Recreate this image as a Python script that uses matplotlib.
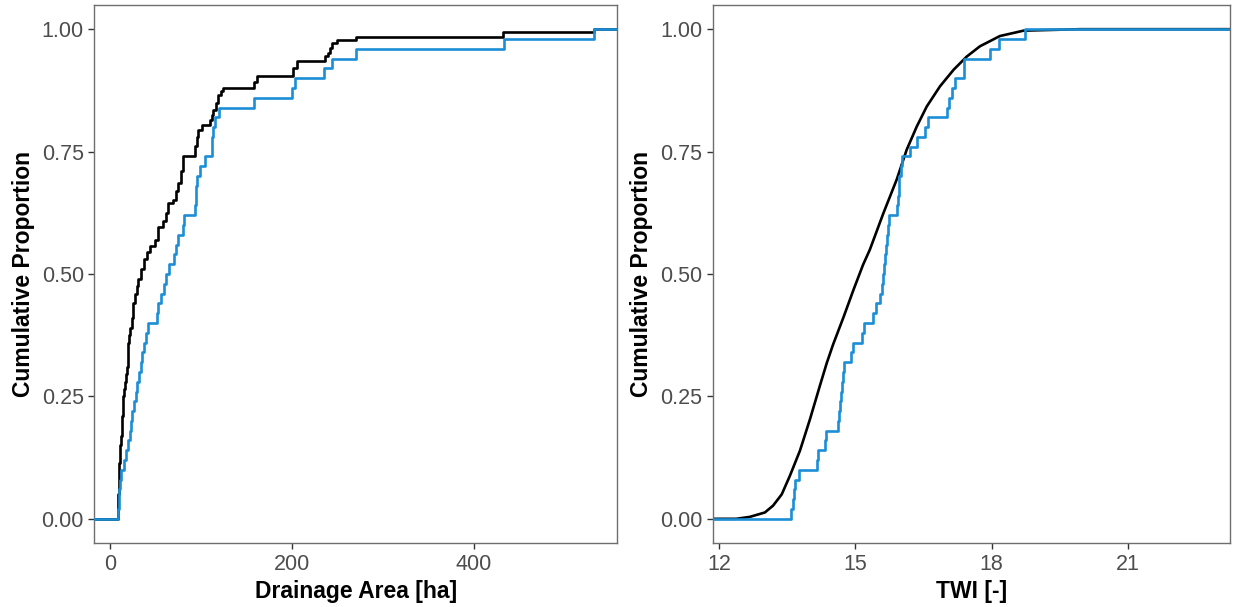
import matplotlib
matplotlib.use("Agg")
import matplotlib.pyplot as plt
import numpy as np

plt.rcParams['font.family'] = ['Liberation Sans', 'DejaVu Sans']

# ---------------- data ----------------
# Left panel: Drainage Area [ha]
# sample (blue): 50 sorted observations
area_sample = [9.1, 9.6, 10.2, 11.0, 12.0, 15.5, 17.5, 19.5, 21.5, 23.0,
               24.5, 26.0, 28.0, 30.0, 31.5, 33.5, 35.0, 37.5, 40.0, 42.0,
               51.5, 53.0, 56.5, 59.0, 61.0, 65.0, 70.0, 72.0, 75.0, 80.6,
               81.5, 93.4, 94.0, 94.8, 95.3, 99.0, 104.4, 111.7, 112.2, 112.8,
               115.4, 119.8, 158.0, 200.0, 203.5, 235.0, 243.7, 270.0, 433.0, 532.0]
# population (black): jump locations and cumulative level after each jump
area_pop_x = [9.1, 9.6, 10.0, 10.5, 11.2, 12.1, 12.8, 13.5, 14.1, 14.7,
              15.6, 16.5, 17.4, 18.3, 19.2, 20.1, 21.0, 22.0, 23.8, 25.5,
              27.5, 29.3, 31.1, 34.0, 37.7, 41.0, 44.0, 49.5, 53.1,
              58.6, 61.0, 64.1, 69.6, 72.0, 75.0, 77.5, 80.6, 93.4, 95.0,
              97.0, 100.7, 109.9, 111.5, 113.6, 116.0, 119.0, 121.5, 124.5, 158.0,
              161.2, 201.0, 205.0, 236.0, 240.0, 242.0, 244.3, 249.0, 270.0, 432.0,
              532.0]
area_pop_p = [0.05, 0.10, 0.115, 0.13, 0.15, 0.17, 0.19, 0.21, 0.23, 0.25,
              0.265, 0.28, 0.295, 0.31, 0.335, 0.36, 0.375, 0.39, 0.41, 0.44,
              0.46, 0.475, 0.49, 0.51, 0.53, 0.545, 0.557, 0.570, 0.597,
              0.608, 0.625, 0.645, 0.652, 0.67, 0.686, 0.71, 0.74, 0.761, 0.78,
              0.795, 0.805, 0.815, 0.825, 0.835, 0.85, 0.866, 0.874, 0.880, 0.893,
              0.905, 0.92, 0.934, 0.945, 0.951, 0.962, 0.971, 0.978, 0.984, 0.994,
              1.0]

# Right panel: TWI [-]
twi_sample = [13.58, 13.62, 13.65, 13.67, 13.76, 14.15, 14.17, 14.33, 14.36, 14.62,
              14.64, 14.66, 14.68, 14.70, 14.72, 14.74, 14.91, 14.94, 15.15, 15.18,
              15.39, 15.46, 15.55, 15.58, 15.60, 15.62, 15.65, 15.68, 15.70, 15.72,
              15.75, 15.91, 15.93, 15.95, 15.97, 16.00, 16.03, 16.20, 16.36, 16.53,
              16.59, 17.01, 17.07, 17.12, 17.19, 17.38, 17.39, 17.96, 18.17, 18.73]
twi_pop_x = [12.38, 12.68, 13.01, 13.19, 13.38, 13.56, 13.78, 14.00, 14.22, 14.37,
             14.51, 14.74, 14.96, 15.17, 15.32, 15.62, 15.91, 16.13, 16.35, 16.57,
             16.86, 17.16, 17.45, 17.74, 18.18, 18.70, 19.94, 22.72]
twi_pop_p = [0.0, 0.004, 0.013, 0.027, 0.05, 0.088, 0.139, 0.203, 0.272, 0.318,
             0.356, 0.412, 0.468, 0.519, 0.55, 0.625, 0.693, 0.754, 0.801, 0.842,
             0.883, 0.917, 0.944, 0.965, 0.986, 0.997, 1.0, 1.0]

y_ticks = [0.0, 0.25, 0.5, 0.75, 1.0]
y_ticklabels = ["0.00", "0.25", "0.50", "0.75", "1.00"]
area_ticks = [0, 200, 400]
twi_ticks = [12, 15, 18, 21]

BLUE = "#1B8ED6"
BLACK = "#000000"
FRAME = "#6E6E6E"
TICKC = "#4D4D4D"

W, H = 1236, 607
fig = plt.figure(figsize=(W / 100, H / 100), dpi=100)

ax1 = fig.add_axes([94.3 / W, (H - 543.3) / H, 522.7 / W, 538.6 / H])
ax2 = fig.add_axes([712.7 / W, (H - 543.3) / H, 517.3 / W, 538.6 / H])

xlim1 = (-17.3, 557.0)
xlim2 = (11.861, 23.243)
ylim = (-0.05, 1.05)


def ecdf_from_sorted(vals, lo, hi):
    n = len(vals)
    xs = [lo] + list(vals) + [hi]
    ps = [0.0] + [(i + 1) / n for i in range(n)] + [1.0]
    return xs, ps


lw = 1.9
# left panel
px = [xlim1[0]] + area_pop_x + [xlim1[1]]
pp = [0.0] + area_pop_p + [1.0]
ax1.step(px, pp, where='post', color=BLACK, lw=lw, zorder=2)
sx, sp = ecdf_from_sorted(area_sample, xlim1[0], xlim1[1])
ax1.step(sx, sp, where='post', color=BLUE, lw=lw, zorder=3)

# right panel
px2 = [xlim2[0]] + twi_pop_x + [xlim2[1]]
pp2 = [0.0] + twi_pop_p + [1.0]
ax2.plot(px2, pp2, color=BLACK, lw=lw, zorder=2, solid_joinstyle='round')
sx2, sp2 = ecdf_from_sorted(twi_sample, xlim2[0], xlim2[1])
ax2.step(sx2, sp2, where='post', color=BLUE, lw=lw, zorder=3)

for ax, xl, xt, xlabel in [(ax1, xlim1, area_ticks, "Drainage Area [ha]"),
                           (ax2, xlim2, twi_ticks, "TWI [-]")]:
    ax.set_xlim(*xl)
    ax.set_ylim(*ylim)
    ax.set_xticks(xt)
    ax.set_xticklabels([str(t) for t in xt])
    ax.set_yticks(y_ticks)
    ax.set_yticklabels(y_ticklabels)
    ax.tick_params(axis='both', direction='out', length=4.5, width=1.0,
                   color="#333333", labelcolor=TICKC, labelsize=15.5, pad=3)
    for s in ax.spines.values():
        s.set_color(FRAME)
        s.set_linewidth(1.0)
    ax.set_xlabel(xlabel, fontsize=16.5, fontweight='bold', color='black', labelpad=4)
    ax.set_ylabel("Cumulative Proportion", fontsize=16.5, fontweight='bold',
                  color='black', labelpad=5)
    ax.grid(False)

fig.savefig("out.png", dpi=100, facecolor='white')
